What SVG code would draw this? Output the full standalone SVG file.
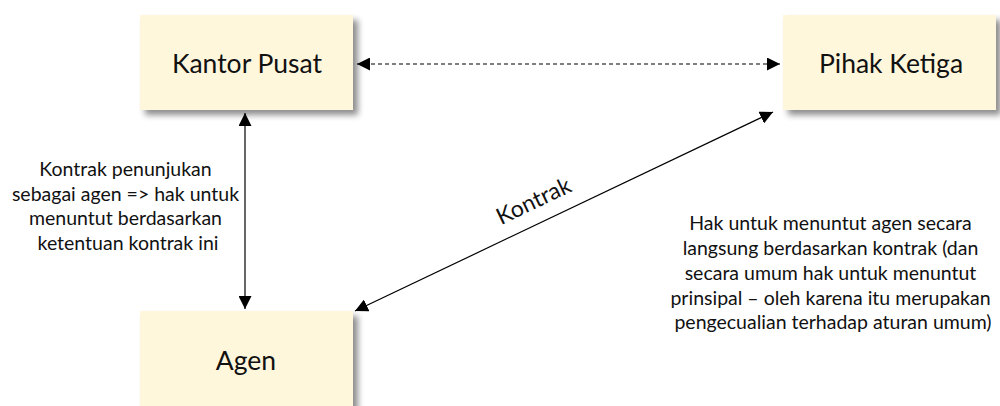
<svg xmlns="http://www.w3.org/2000/svg" width="1000" height="406" viewBox="0 0 1000 406">
  <style>
    .box { fill: #fff7dc; filter: url(#shadow); }
    .lbl { font-family: Lato, "Open Sans", sans-serif; font-size: 26.5px; fill: #111; text-anchor: middle; }
    .note { font-family: Lato, "Open Sans", sans-serif; font-size: 19.5px; fill: #111; text-anchor: middle; }
    .line { stroke: #000; stroke-width: 1.2; fill: none; }
  </style>
  <defs>
    <filter id="shadow" x="-10%" y="-10%" width="130%" height="140%">
      <feGaussianBlur in="SourceAlpha" stdDeviation="3"/>
      <feOffset dx="5" dy="5" result="b"/>
      <feComponentTransfer><feFuncA type="linear" slope="0.45"/></feComponentTransfer>
      <feMerge><feMergeNode/><feMergeNode in="SourceGraphic"/></feMerge>
    </filter>
    <marker id="arrow" viewBox="0 0 10 10" refX="10" refY="5" markerWidth="13" markerHeight="13" markerUnits="userSpaceOnUse" orient="auto-start-reverse">
      <path d="M0,0 L10,5 L0,10 Z" fill="#000"/>
    </marker>
  </defs>
  <rect width="1000" height="406" fill="#fff"/>

  <g id="kantor-pusat">
    <rect class="box" x="140" y="15" width="213" height="95"/>
    <text class="lbl" x="247" y="73">Kantor Pusat</text>
  </g>
  <g id="pihak-ketiga">
    <rect class="box" x="783" y="15" width="213" height="95"/>
    <text class="lbl" x="891" y="73">Pihak Ketiga</text>
  </g>
  <g id="agen">
    <rect class="box" x="140" y="311" width="213" height="110"/>
    <text class="lbl" x="246" y="370">Agen</text>
  </g>

  <g id="connectors">
    <line class="line" x1="357" y1="64" x2="780" y2="64" stroke-dasharray="4,3" marker-start="url(#arrow)" marker-end="url(#arrow)"/>
    <line class="line" x1="245" y1="113" x2="245" y2="309" marker-start="url(#arrow)" marker-end="url(#arrow)"/>
    <line class="line" x1="355" y1="311" x2="773" y2="112" marker-start="url(#arrow)" marker-end="url(#arrow)"/>
  </g>

  <g id="labels">
    <text class="lbl" transform="translate(537,208) rotate(-25.5)" style="font-size:23px">Kontrak</text>
    <text class="note">
      <tspan x="128" y="176">Kontrak penunjukan</tspan>
      <tspan x="128" y="201">sebagai agen =&gt; hak untuk</tspan>
      <tspan x="128" y="225">menuntut berdasarkan</tspan>
      <tspan x="128" y="250">ketentuan kontrak ini</tspan>
    </text>
    <text class="note">
      <tspan x="833" y="230">Hak untuk menuntut agen secara</tspan>
      <tspan x="833" y="255">langsung berdasarkan kontrak (dan</tspan>
      <tspan x="833" y="280">secara umum hak untuk menuntut</tspan>
      <tspan x="833" y="305">prinsipal – oleh karena itu merupakan</tspan>
      <tspan x="833" y="329">pengecualian terhadap aturan umum)</tspan>
    </text>
  </g>
</svg>
